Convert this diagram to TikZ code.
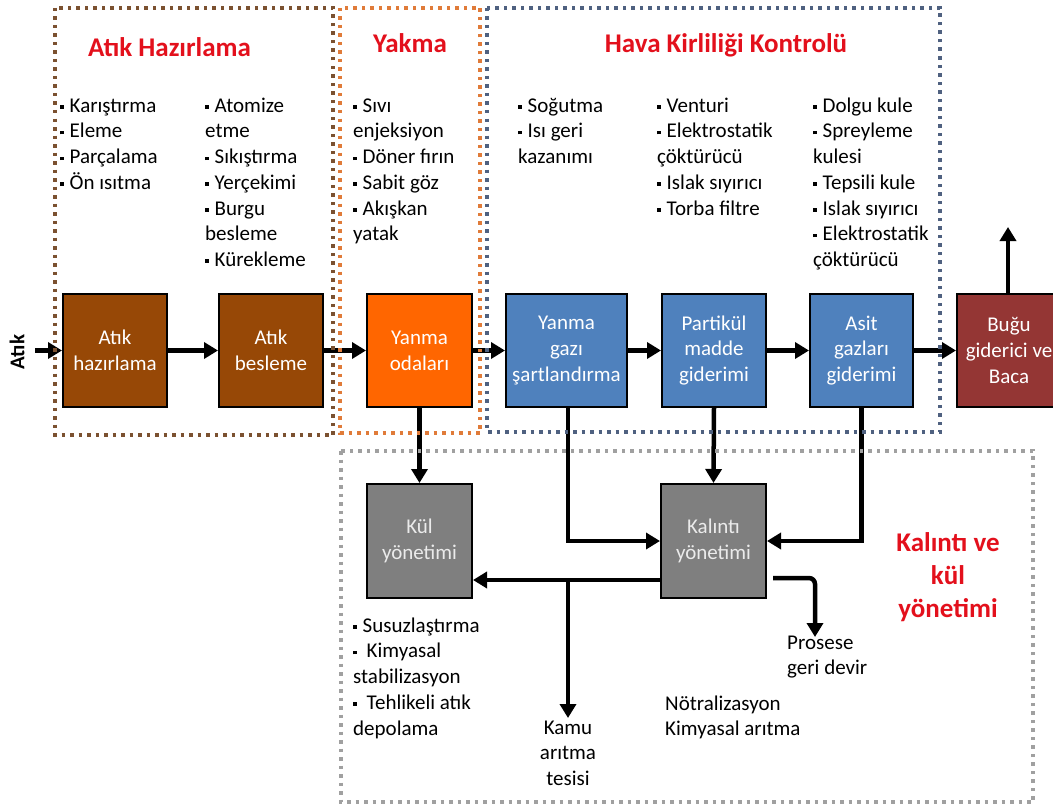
\documentclass[tikz,border=0pt]{standalone}
\usepackage{fontspec}
\setmainfont{Carlito}
\usetikzlibrary{arrows.meta,calc}
\definecolor{cbrown}{HTML}{974806}
\definecolor{corange}{HTML}{FF6600}
\definecolor{cblue}{HTML}{4F81BD}
\definecolor{cdred}{HTML}{943634}
\definecolor{cgray}{HTML}{7F7F7F}
\definecolor{ctitle}{HTML}{E3101C}
\definecolor{fbrown}{HTML}{7B5130}
\definecolor{forange}{HTML}{E07B39}
\definecolor{fblue}{HTML}{4F6180}
\definecolor{fgray}{HTML}{A0A0A0}
\newcommand\lstfont{\fontsize{21}{25.7}\selectfont}
\newcommand\ttlfont{\fontsize{27}{33}\selectfont\bfseries}
\newcommand\bsq{\raisebox{3.5pt}{\rule{3.5pt}{3.5pt}}\hspace{6pt}}
\newcommand\fs{\rule{0pt}{16pt}}
\newcommand\ts{\rule{0pt}{21pt}}
\begin{document}
\begin{tikzpicture}[x=1pt,y=-1pt,
  blk/.style={draw=black, line width=2pt, minimum height=113pt, text=white,
    font=\lstfont, align=center, inner sep=0pt},
  flow/.style={line width=4.5pt, -{Triangle[length=14pt,width=16pt]}},
  frame/.style={line width=3.5pt, dash pattern=on 3.5pt off 5pt},
  lst/.style={anchor=north west, align=left, inner sep=0pt, font=\lstfont},
  ttl/.style={text=ctitle, font=\ttlfont, inner sep=0pt, align=center}]
\useasboundingbox (0,0) rectangle (1053,808);
\clip (0,0) rectangle (1053,808);

% boxes
\node[blk, fill=cbrown, minimum width=104pt] (n1) at (115,350.5) {Atık\\hazırlama};
\node[blk, fill=cbrown, minimum width=104pt] (n2) at (271,350.5) {Atık\\besleme};
\node[blk, fill=corange, minimum width=105pt] (n3) at (419.5,350.5) {Yanma\\odaları};
\node[blk, fill=cblue, minimum width=121pt] (ygs) at (566.5,350.5) {Yanma\\gazı\\şartlandırma};
\node[blk, fill=cblue, minimum width=104pt] (par) at (714,350.5) {Partikül\\madde\\giderimi};
\node[blk, fill=cblue, minimum width=103pt] (asit) at (861.5,350.5) {Asit\\gazları\\giderimi};
\node[blk, fill=cdred, minimum width=104pt] (bugu) at (1009,350.5) {Buğu\\giderici ve\\Baca};
\node[blk, fill=cgray, minimum width=105pt, minimum height=114pt, text=white!92!black] (kul) at (419.5,541) {Kül\\yönetimi};
\node[blk, fill=cgray, minimum width=105pt, minimum height=114pt, text=white!92!black] (kal) at (713.5,541) {Kalıntı\\yönetimi};

% labels
\node[rotate=90, font=\fontsize{21}{25}\selectfont\bfseries, inner sep=0pt] (atik) at (17,352) {Atık};
\node[lst] (l1) at (60,96) {\fs\bsq Karıştırma\\\bsq Eleme\\\bsq Parçalama\\\bsq Ön ısıtma};
\node[lst] (l2) at (205,96) {\fs\bsq Atomize\\etme\\\bsq Sıkıştırma\\\bsq Yerçekimi\\\bsq Burgu\\besleme\\\bsq Kürekleme};
\node[lst] (l3) at (353,96) {\fs\bsq Sıvı\\enjeksiyon\\\bsq Döner fırın\\\bsq Sabit göz\\\bsq Akışkan\\yatak};
\node[lst] (l4) at (518,96) {\fs\bsq Soğutma\\\bsq Isı geri\\kazanımı};
\node[lst] (l5) at (657,96) {\fs\bsq Venturi\\\bsq Elektrostatik\\çöktürücü\\\bsq Islak sıyırıcı\\\bsq Torba filtre};
\node[lst] (l6) at (813,96) {\fs\bsq Dolgu kule\\\bsq Spreyleme\\kulesi\\\bsq Tepsili kule\\\bsq Islak sıyırıcı\\\bsq Elektrostatik\\çöktürücü};
\node[lst] (l7) at (353,616) {\fs\bsq Susuzlaştırma\\\bsq\hspace{4pt}Kimyasal\\stabilizasyon\\\bsq\hspace{4pt}Tehlikeli atık\\depolama};
\node[lst, anchor=north, align=center] (kamu) at (568,718) {\fs Kamu\\arıtma\\tesisi};
\node[lst] (notr) at (665,694) {\fs Nötralizasyon\\Kimyasal arıtma};
\node[lst] (pros) at (787,633) {\fs Prosese\\geri devir};

\node[ttl] (t1) at (169.5,47) {Atık Hazırlama};
\node[ttl] (t2) at (410,43) {Yakma};
\node[ttl] (t3) at (726,45) {Hava Kirliliği Kontrolü};
\node[ttl, anchor=north] (t4) at (948,530) {\ts Kalıntı ve\\kül\\yönetimi};

% coordinates
\coordinate (ain) at (35,350.5);
\coordinate (up) at (1008,227);
\coordinate (k1) at ($(kal.west)+(0,39)$);
\coordinate (j) at (568,580);
\coordinate (p0) at ($(kal.east)+(6,37)$);
\coordinate (pe) at (815,637);

% connectors
\draw[flow] (ain) -- (n1.west);
\draw[flow] (n1.east) -- (n2.west);
\draw[flow] (n2.east) -- (n3.west);
\draw[flow] (n3.east) -- (ygs.west);
\draw[flow] (ygs.east) -- (par.west);
\draw[flow] (par.east) -- (asit.west);
\draw[flow] (asit.east) -- (bugu.west);
\draw[flow] (bugu.north -| up) -- (up);
\draw[flow] (n3.south) -- (kul.north);
\draw[flow] (par.south) -- (kal.north);
\draw[flow] (ygs.south -| j) |- (kal.west);
\draw[flow] (asit.south) |- (kal.east);
\draw[flow] (k1) -- (kul.east |- k1);
\draw[flow] (j) -- (kamu.north);
\draw[flow, rounded corners=6pt] (p0) -| (pe);

% dotted frames
\draw[frame, fbrown] (55,8) rectangle (333,435);
\draw[frame, forange] (340,8) rectangle (480,433);
\draw[frame, fblue] (487,8) rectangle (940,432);
\draw[frame, fgray] (341,451) rectangle (1033,802);
\end{tikzpicture}
\end{document}
